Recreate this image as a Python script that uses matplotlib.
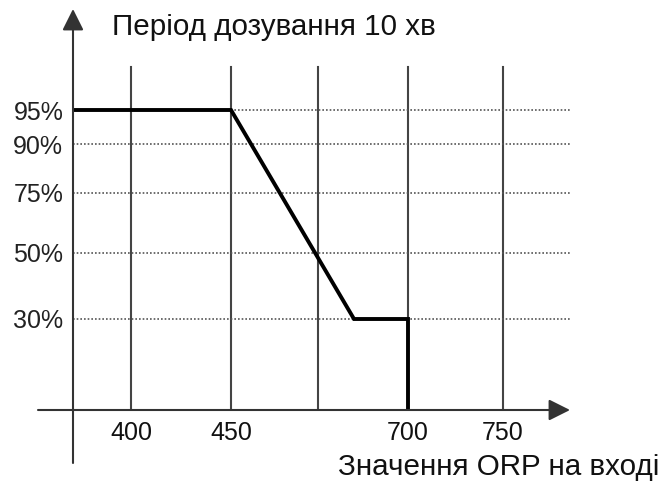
"""Dosing period vs input ORP value (schematic chart)."""

import numpy as np
import matplotlib
matplotlib.use("Agg")
import matplotlib.pyplot as plt

plt.rcParams["font.family"] = ["Liberation Sans", "DejaVu Sans"]

# chart data
orp_line = [369, 450, 670, 700, 700]
dose_line = [95, 95, 30, 30, 0]
grid_orp = [400, 450, 650, 700, 750]
x_ticks = [400, 450, 700, 750]
y_ticks = [95, 90, 75, 50, 30]
y_tick_labels = ["95%", "90%", "75%", "50%", "30%"]
title_text = "Період дозування 10 хв"
xlabel_text = "Значення ORP на вході"

# schematic (non-linear) scales: value -> position anchors (px from axes origin)
X_VALS = np.array([369, 400, 450, 650, 700, 750, 784], dtype=float)
X_POS = np.array([73, 131, 231, 318, 408, 503, 570], dtype=float)
Y_VALS = np.array([0, 30, 50, 75, 90, 95, 130], dtype=float)
Y_POS = np.array([0, 91, 157, 217, 266, 300, 401], dtype=float)


def x_fwd(v):
    return np.interp(v, X_VALS, X_POS)


def x_inv(p):
    return np.interp(p, X_POS, X_VALS)


def y_fwd(v):
    return np.interp(v, Y_VALS, Y_POS)


def y_inv(p):
    return np.interp(p, Y_POS, Y_VALS)


W, H = 662, 488
TOP, BOT, LEFT, RIGHT = 9, 410, 73, 570
fig = plt.figure(figsize=(W / 100, H / 100), dpi=100)
ax = fig.add_axes([LEFT / W, (H - BOT) / H, (RIGHT - LEFT) / W, (BOT - TOP) / H])
ax.set_xscale("function", functions=(x_fwd, x_inv))
ax.set_yscale("function", functions=(y_fwd, y_inv))
ax.set_xlim(X_VALS[0], X_VALS[-1])
ax.set_ylim(Y_VALS[0], Y_VALS[-1])

for s in ax.spines.values():
    s.set_visible(False)

# grid
for gx in grid_orp:
    ax.axvline(gx, ymin=0, ymax=(BOT - 67) / (BOT - TOP), color="#444444", lw=1.5, zorder=1)
for gy in y_ticks:
    ax.axhline(gy, color="#555555", lw=1.2, ls=(0, (1, 1.2)), zorder=1)

# data line
ax.plot(orp_line, dose_line, color="black", lw=2.8, solid_joinstyle="miter", zorder=3)

# axes with arrows
arrow = dict(arrowstyle="-|>,head_length=1.3,head_width=0.65",
             color="#333333", lw=1.5, shrinkA=0, shrinkB=0)
ax.annotate("", xy=(1.0, 0), xytext=(-(LEFT - 38) / (RIGHT - LEFT), 0),
            xycoords="axes fraction", arrowprops=arrow, annotation_clip=False, zorder=4)
ax.annotate("", xy=(0, 1.0), xytext=(0, -(463 - BOT) / (BOT - TOP)),
            xycoords="axes fraction", arrowprops=arrow, annotation_clip=False, zorder=4)

ax.set_xticks(x_ticks)
ax.set_xticklabels([str(v) for v in x_ticks])
ax.set_yticks(y_ticks)
ax.set_yticklabels(y_tick_labels)
ax.minorticks_off()
ax.tick_params(axis="x", length=0, pad=8, labelsize=18, labelcolor="#111111")
ax.tick_params(axis="y", length=0, pad=7, labelsize=18, labelcolor="#222222")

fig.text(112 / W, 1 - 35 / H, title_text, fontsize=21.3, ha="left", va="baseline",
         color="#111111")
fig.text(659 / W, 1 - 475 / H, xlabel_text, fontsize=21.3, ha="right", va="baseline",
         color="#111111")

fig.savefig("out.png", dpi=100, facecolor="white")
plt.close(fig)
